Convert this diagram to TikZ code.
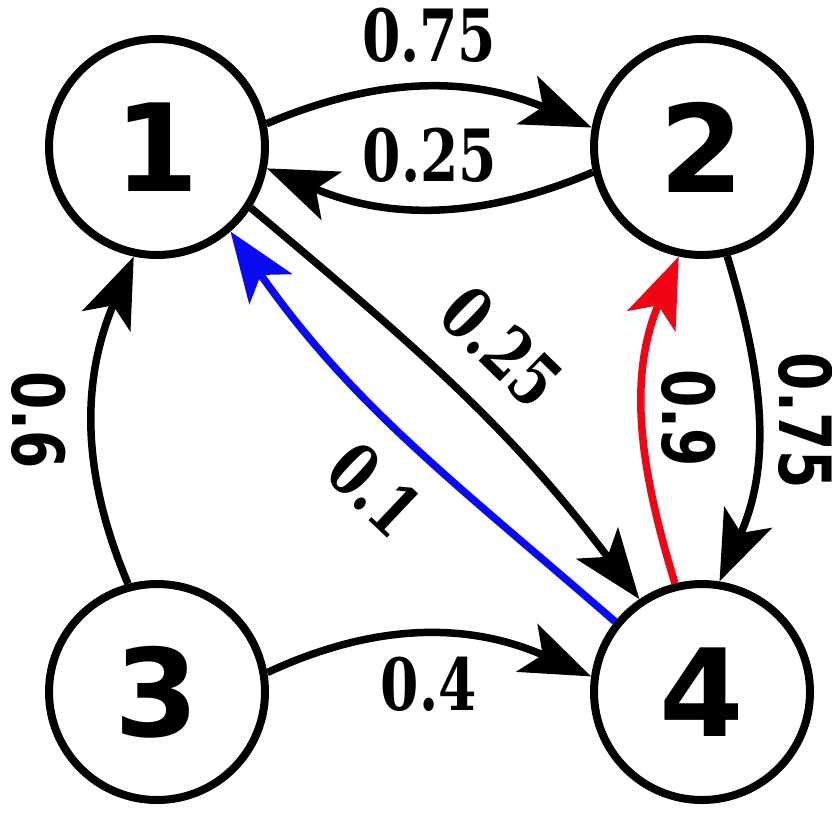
\documentclass[tikz,border=0pt]{standalone}
\usepackage{fontspec}
\usetikzlibrary{automata, positioning, arrows.meta}
\newfontfamily\statefont{DejaVu Sans}
\newfontfamily\labfont{DejaVuSerifCondensed-Bold.ttf}[FakeStretch=0.85]
\newfontfamily\vlabfont{DejaVuSansCondensed-Bold.ttf}[FakeStretch=0.85]
\definecolor{edgeblue}{RGB}{10,10,240}
\definecolor{edgered}{RGB}{240,5,20}

\begin{document}
\begin{tikzpicture}[>={Stealth[length=0.7cm, width=0.52cm, inset=0.17cm]},
		every state/.style={draw, circle, line width=0.08cm, minimum size=2.16cm, inner sep=0pt, font=\statefont\bfseries\fontsize{34.6}{40}\selectfont},
		every edge/.append style={line width=0.075cm},
		lab/.style={text=black, font=\labfont\fontsize{20.5}{24}\selectfont},
		vlab/.style={text=black, font=\vlabfont\fontsize{20.5}{24}\selectfont, rotate=-90}]
		\useasboundingbox (0,0) rectangle (8.32,8.22);
		
		%etats
		\node[state] (n1) at (1.57,6.75) {1};
		\node[state, right = 3.21cm of n1] (n2) {2};
		\node[state, below = 3.21cm of n1] (n3) {3};
		\node[state, right = 3.21cm of n3] (n4) {4};
		
		%transitions
		\draw (n1.12) edge[->, out=23, in=157] node[lab, midway, above, inner sep=0.22cm] {0.75} (n2.170);
		\draw (n2.193) edge[->, out=203, in=-23] node[lab, midway, above, inner sep=0.21cm] {0.25} (n1.-11);
		\draw (n1.-33) edge[->, out=-40, in=127] node[lab, midway, sloped, above, inner sep=0.31cm] {0.25} (n4.124);
		\draw (n4.141) edge[->, edgeblue, out=139, in=-55] node[lab, pos=0.48, sloped, below, inner sep=0.28cm] {0.1} (n1.-49);
		\draw (n2.-77) edge[->, out=-73, in=66] node[vlab, midway, anchor=south, inner sep=0.18cm] {0.75} (n4.81);
		\draw (n4.104) edge[->, edgered, out=107, in=247] node[vlab, midway, anchor=south, inner sep=0.14cm] {0.9} (n2.-102);
		\draw (n3.105) edge[->, out=113, in=247] node[vlab, midway, anchor=north, inner sep=0.24cm] {0.6} (n1.258);
		\draw (n3.10) edge[->, out=25, in=156] node[lab, midway, below, inner sep=0.18cm] {0.4} (n4.172);
		
	\end{tikzpicture}
\end{document}
